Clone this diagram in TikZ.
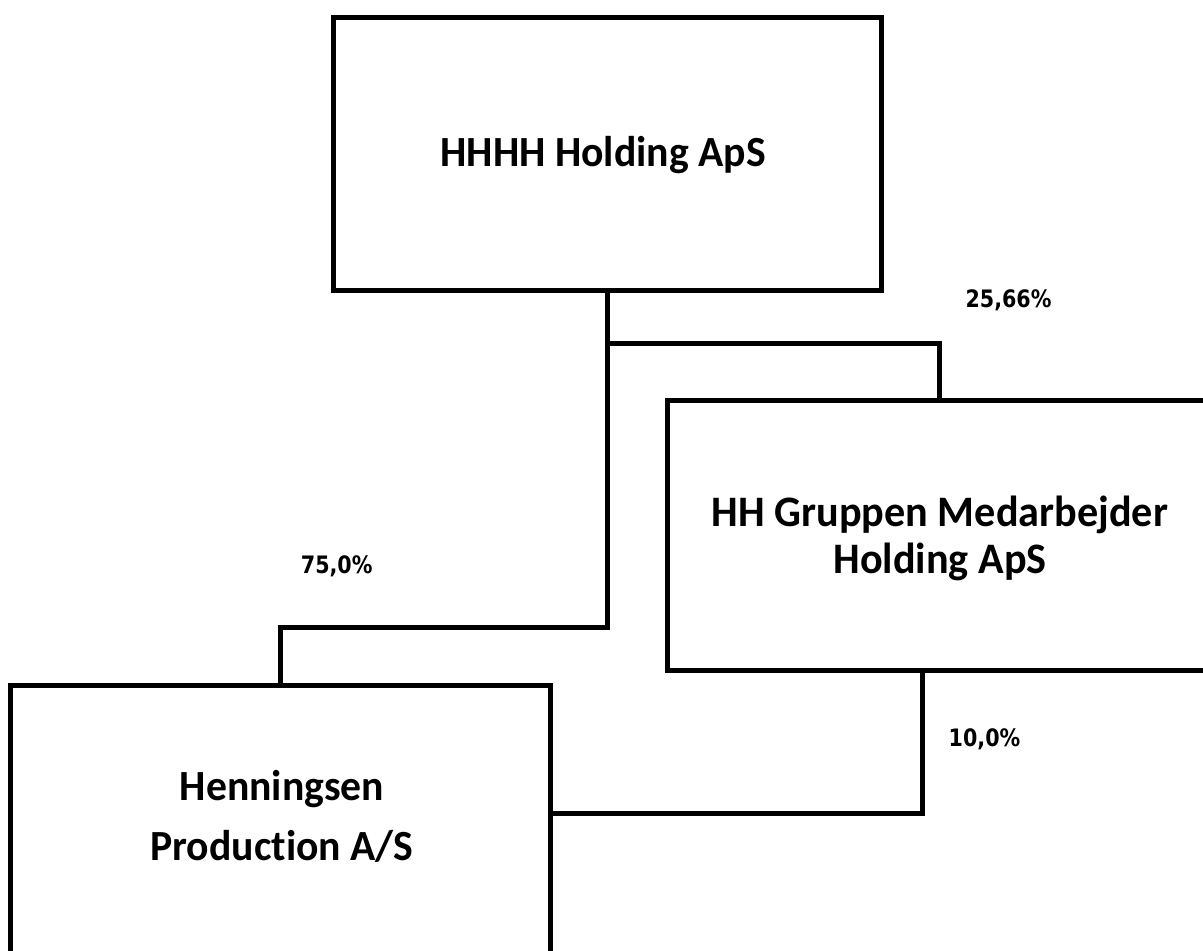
\documentclass[tikz,border=0pt]{standalone}
\usepackage{fontspec}
\setmainfont[Ligatures=NoCommon,FakeStretch=0.97]{Carlito}
\newfontfamily\pctfont[FakeStretch=0.86]{DejaVu Sans}
\begin{document}
\begin{tikzpicture}[x=1pt,y=-1pt,
  box/.style={draw=black,line width=5pt,rectangle,inner sep=0pt},
  boxtext/.style={align=center,inner sep=0pt},
  pct/.style={font=\pctfont\fontsize{24}{24}\selectfont\bfseries,inner sep=0pt,anchor=base},
  conn/.style={draw=black,line width=5pt}]
\useasboundingbox[fill=white] (0,0) rectangle (1203,951);
% boxes
\node[box,minimum width=548pt,minimum height=273pt] (top) at (607,153.5) {};
\node[box,minimum width=544pt,minimum height=270pt] (hh) at (939,535) {};
\node[box,minimum width=540pt,minimum height=276pt] (hen) at (280,823) {};
% texts
\node[boxtext,anchor=base,font=\fontsize{43}{43}\selectfont\bfseries] (ttop) at (603,166.7) {HHHH Holding ApS};
\node[boxtext,font=\fontsize{43.5}{47}\selectfont\bfseries] (thh) at (940,538) {HH Gruppen Medarbejder\\Holding ApS};
\node[boxtext,font=\fontsize{43}{60}\selectfont\bfseries] (then) at (282,816) {Henningsen\\Production A/S};
% connectors
\coordinate (j1) at (607,343);
\coordinate (j2) at (607,627);
\coordinate (j3) at (922,813);
\draw[conn] (top.south) -- (j2) -| (hen.north);
\draw[conn] (j1) -| (hh.north);
\draw[conn] (hh.south -| j3) -- (j3) -- (j3 -| hen.east);
% percentages
\node[pct] (p1) at (1008.5,307) {25,66\%};
\node[pct] (p2) at (336.7,573.3) {75,0\%};
\node[pct] (p3) at (984.5,746.7) {10,0\%};
\end{tikzpicture}
\end{document}
